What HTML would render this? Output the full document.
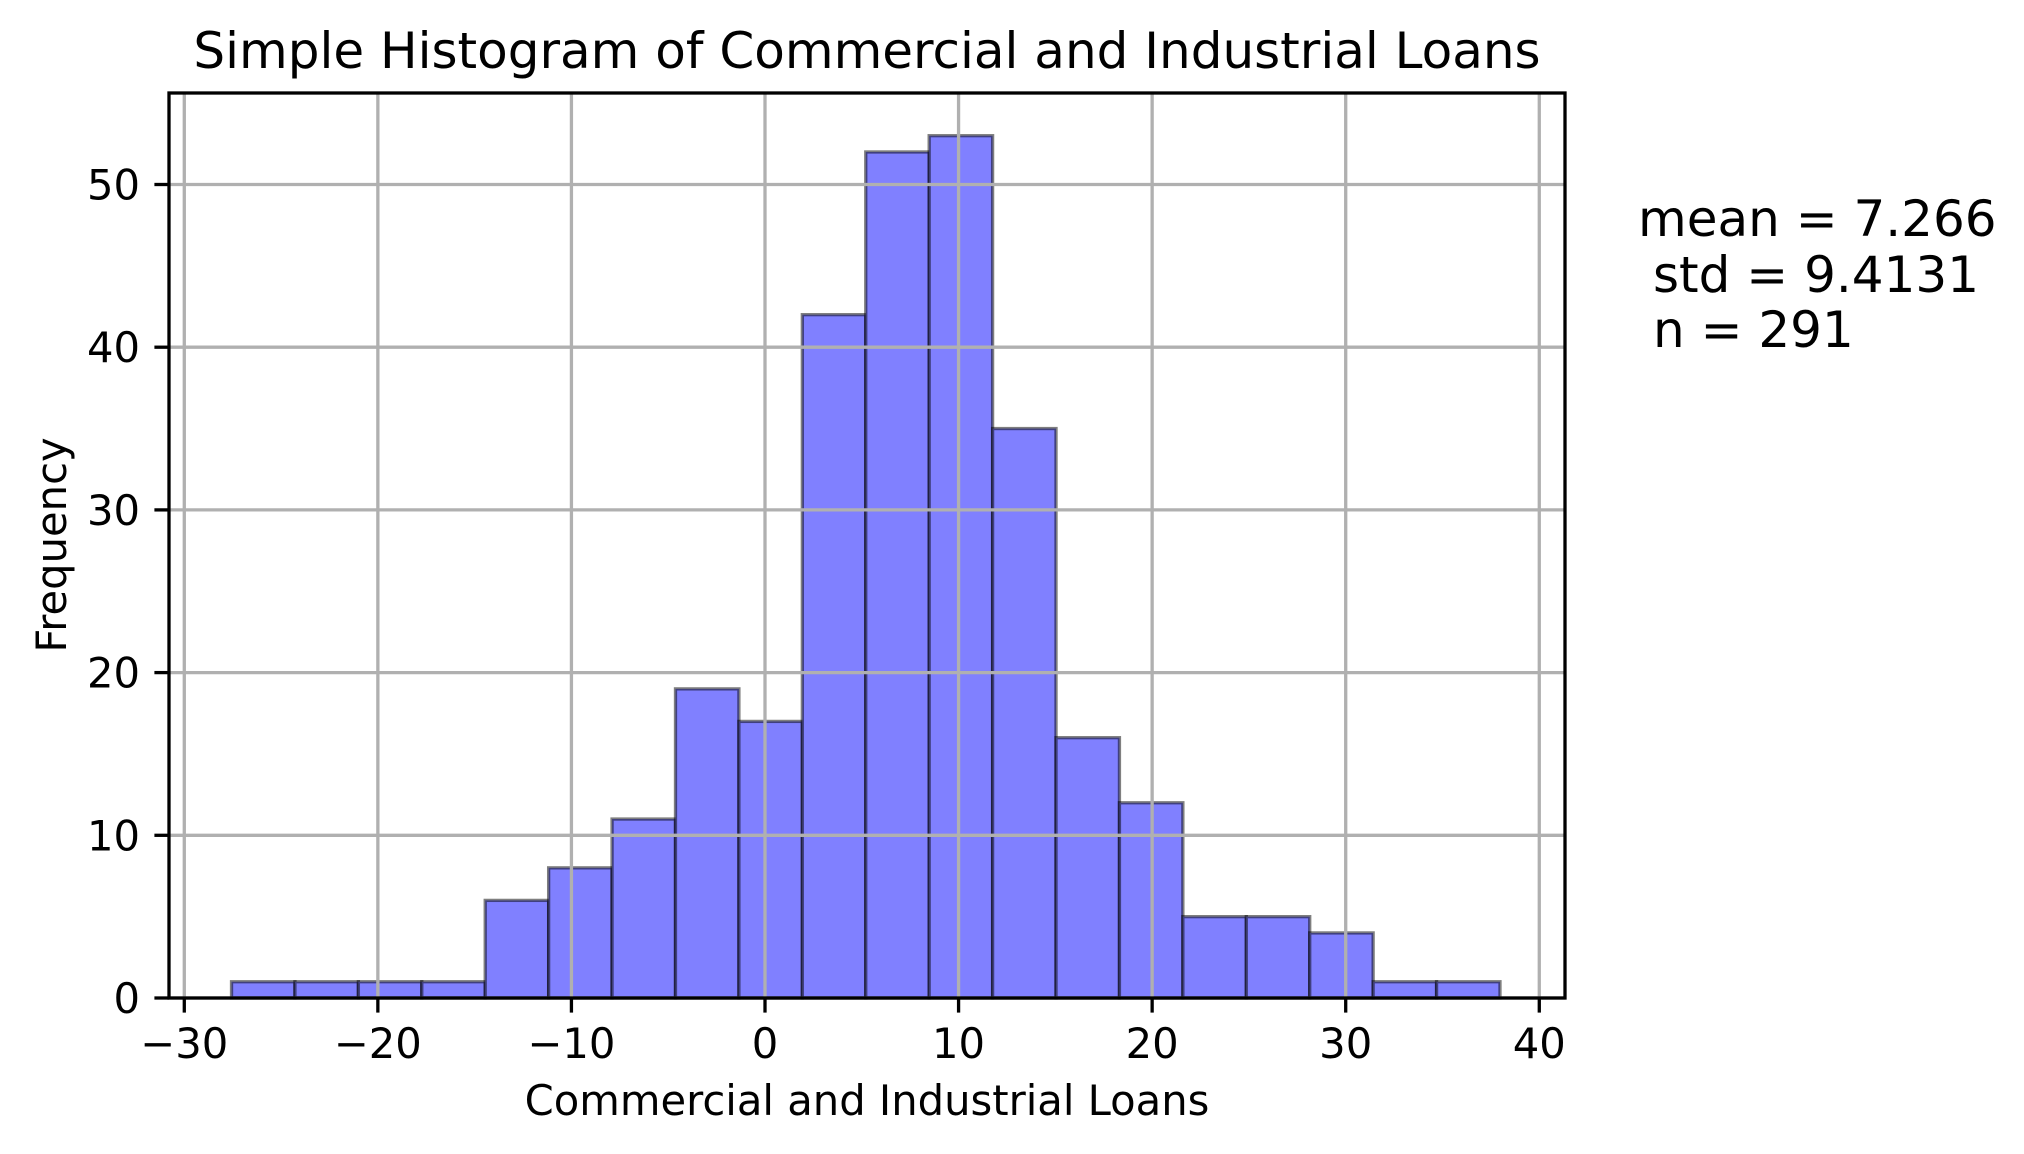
<!DOCTYPE html>
<html><head><meta charset="utf-8"><style>
html,body{margin:0;padding:0;background:#fff;}
svg{display:block;font-family:"DejaVu Sans","Liberation Sans",sans-serif;}
</style></head><body>
<svg id="chart" width="2024" height="1154" viewBox="0 0 2024 1154">
<rect x="0" y="0" width="2024" height="1154" fill="#fff"/>
<g id="bars"></g>
<g id="grid"></g>
<g id="axes"></g>
<text x="867" y="68" font-size="50" text-anchor="middle">Simple Histogram of Commercial and Industrial Loans</text>
<text x="867" y="1115" font-size="41.7" text-anchor="middle">Commercial and Industrial Loans</text>
<text transform="translate(66,545) rotate(-90)" font-size="41.7" text-anchor="middle">Frequency</text>
<g font-size="50">
<text x="1638" y="236">mean = 7.266</text>
<text x="1653" y="292">std = 9.4131</text>
<text x="1653" y="347">n = 291</text>
</g>
</svg>
<script>
const binStart = -27.56;
const binWidth = 3.2765;
const counts = [1,1,1,1,6,8,11,19,17,42,52,53,35,16,12,5,5,4,1,1];
const xTicks = [-30,-20,-10,0,10,20,30,40];
const yTicks = [0,10,20,30,40,50];

const NS = "http://www.w3.org/2000/svg";
const L = 169, R = 1565, T = 93, B = 998;
function xs(v){ return 765.0 + v * 19.357; }
function ys(v){ return 998 - v * 16.27; }
function mk(tag, attrs, parent){
  const e = document.createElementNS(NS, tag);
  for (const k in attrs) e.setAttribute(k, attrs[k]);
  parent.appendChild(e);
  return e;
}
const bars = document.getElementById('bars');
counts.forEach((c, i) => {
  const x0 = xs(binStart + i * binWidth), x1 = xs(binStart + (i + 1) * binWidth);
  const r = mk('rect', {x: x0, y: ys(c), width: x1 - x0, height: ys(0) - ys(c),
    fill: '#8080ff', stroke: 'rgba(0,0,0,0.5)', 'stroke-width': 3.3}, bars);
  
  
});
const grid = document.getElementById('grid');
xTicks.forEach(t => {
  const l = mk('line', {x1: xs(t), x2: xs(t), y1: T, y2: B, stroke: '#b0b0b0', 'stroke-width': 3.3}, grid);
  
  
});
yTicks.forEach(t => {
  const l = mk('line', {x1: L, x2: R, y1: ys(t), y2: ys(t), stroke: '#b0b0b0', 'stroke-width': 3.3}, grid);
  
  
});
const axes = document.getElementById('axes');
const frame = mk('rect', {x: L, y: T, width: R - L, height: B - T, fill: 'none', stroke: '#000', 'stroke-width': 3.3}, axes);


xTicks.forEach(t => {
  const tk = mk('line', {x1: xs(t), x2: xs(t), y1: B, y2: B + 14.6, stroke: '#000', 'stroke-width': 3.3}, axes);
  
  
  const tx = mk('text', {x: xs(t), y: 1058, 'font-size': 41.7, 'text-anchor': 'middle'}, axes);
  tx.textContent = (t < 0 ? '\u2212' + Math.abs(t) : String(t));
  
  
});
yTicks.forEach(t => {
  const tk = mk('line', {x1: L - 14.6, x2: L, y1: ys(t), y2: ys(t), stroke: '#000', 'stroke-width': 3.3}, axes);
  
  
  const tx = mk('text', {x: 140, y: ys(t) + 15, 'font-size': 41.7, 'text-anchor': 'end'}, axes);
  tx.textContent = String(t);
  
  
});
</script>
</body></html>
